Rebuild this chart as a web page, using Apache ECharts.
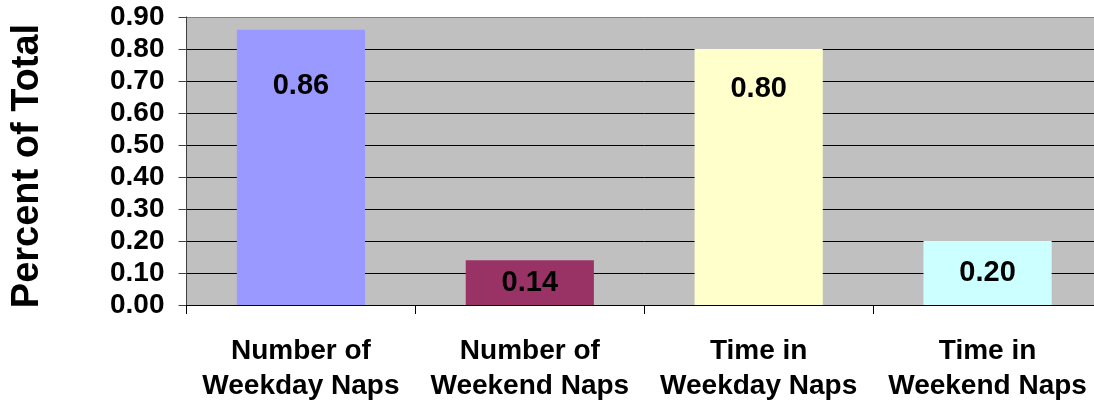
<!DOCTYPE html>
<html>
<head>
<meta charset="utf-8">
<script src="https://cdn.jsdelivr.net/npm/echarts@6/dist/echarts.min.js"></script>
<style>
    html, body { margin: 0; padding: 0; background: #ffffff; overflow: hidden; }
    /* the original plot runs a few pixels past the right edge of the picture */
    #chart { width: 1102px; height: 404px; }
</style>
</head>
<body>
<div id="chart"></div>
<script>
const categories = ['Number of\nWeekday Naps', 'Number of\nWeekend Naps', 'Time in\nWeekday Naps', 'Time in\nWeekend Naps'];
const values = [0.86, 0.14, 0.80, 0.20];
const barColors = ['#9999FF', '#993366', '#FFFFCC', '#CCFFFF'];
const yTicks = [0, 0.1, 0.2, 0.3, 0.4, 0.5, 0.6, 0.7, 0.8, 0.9];

const font = '"Liberation Sans", Arial, sans-serif';

// Excel puts the labels of the tall bars near the top, short ones in the middle
const labelFor = (v) => v > 0.5
    ? { position: 'insideTop', distance: v > 0.83 ? 42 : 25 }
    : { position: 'inside' };

const myChart = echarts.init(document.getElementById('chart'));

const option = {
    backgroundColor: '#ffffff',
    animation: false,
    grid: {
        left: 186.5,
        right: 0,
        top: 17,
        bottom: 95,
        show: true,
        backgroundColor: '#C0C0C0',
        borderWidth: 0
    },
    graphic: [{
        type: 'text',
        x: 28,
        y: 166,
        rotation: Math.PI / 2,
        style: {
            text: 'Percent of Total',
            font: 'bold 38px ' + font,
            fill: '#000000',
            textAlign: 'center',
            textVerticalAlign: 'middle'
        }
    }],
    xAxis: {
        type: 'category',
        data: categories,
        axisLine: { lineStyle: { color: '#000000', width: 1 } },
        axisTick: { show: true, length: 9, lineStyle: { color: '#000000' } },
        axisLabel: {
            color: '#000000',
            fontFamily: font,
            fontWeight: 'bold',
            fontSize: 28,
            lineHeight: 35,
            margin: 29,
            interval: 0
        }
    },
    yAxis: {
        type: 'value',
        min: yTicks[0],
        max: yTicks[yTicks.length - 1],
        interval: 0.1,
        axisLine: { show: true, lineStyle: { color: '#404040', width: 1 } },
        axisTick: { show: true, length: 8, lineStyle: { color: '#404040' } },
        axisLabel: {
            color: '#000000',
            fontFamily: font,
            fontWeight: 'bold',
            fontSize: 28,
            margin: 22,
            formatter: (v) => v.toFixed(2)
        },
        splitLine: {
            show: true,
            lineStyle: {
                color: ['#000000', '#000000', '#000000', '#000000', '#000000',
                        '#000000', '#000000', '#000000', '#000000', '#808080'],
                width: 1
            }
        }
    },
    series: [{
        type: 'bar',
        barWidth: '56%',
        data: values.map((v, i) => ({
            value: v,
            itemStyle: { color: barColors[i] },
            label: labelFor(v)
        })),
        label: {
            show: true,
            color: '#000000',
            fontFamily: font,
            fontWeight: 'bold',
            fontSize: 29,
            formatter: (p) => p.value.toFixed(2)
        }
    }]
};

myChart.setOption(option);
window.addEventListener('resize', () => myChart.resize());
</script>
</body>
</html>
